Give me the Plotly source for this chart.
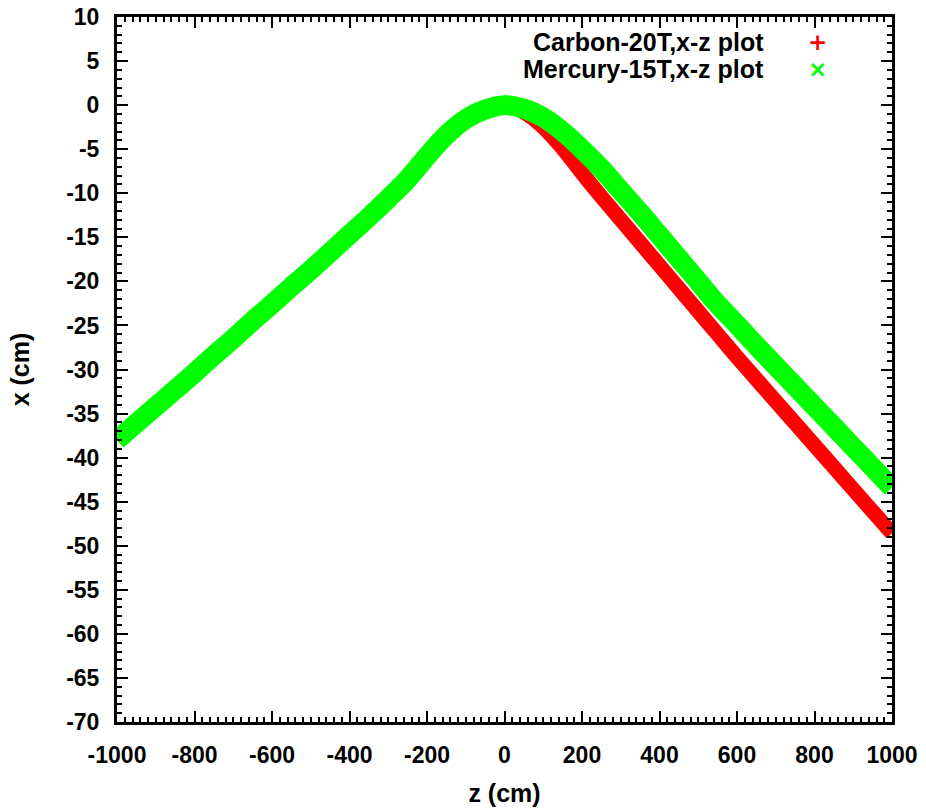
import plotly.graph_objects as go

# z positions (cm)
z_cm = [-1000, -950, -900, -850, -800, -750, -700, -650, -600, -550,
        -500, -450, -400, -350, -300, -250, -200, -150, -100, -50,
        0, 50, 100, 150, 200, 250, 300, 350, 400, 450,
        500, 550, 600, 650, 700, 750, 800, 850, 900, 950, 1000]

# Carbon-20T x (cm)
carbon_x = [-38.0, -36.1, -34.2, -32.3, -30.4, -28.4, -26.5, -24.5, -22.6, -20.6,
            -18.7, -16.7, -14.7, -12.7, -10.6, -8.4, -5.8, -3.4, -1.6, -0.5,
            0.0, -0.8, -2.5, -4.9, -7.7, -10.4, -13.0, -15.6, -18.2, -20.8,
            -23.4, -26.0, -28.6, -31.1, -33.6, -36.1, -38.6, -41.1, -43.6, -46.1, -48.6]

# Mercury-15T x (cm)
mercury_x = [-38.0, -36.1, -34.2, -32.3, -30.4, -28.4, -26.5, -24.5, -22.6, -20.6,
             -18.7, -16.7, -14.7, -12.7, -10.6, -8.4, -5.8, -3.4, -1.6, -0.5,
             0.0, -0.4, -1.4, -3.0, -5.0, -7.2, -9.7, -12.2, -14.8, -17.4,
             -20.0, -22.6, -24.9, -27.3, -29.6, -31.9, -34.2, -36.5, -38.8, -41.1, -43.4]

series_names = ["Carbon-20T,x-z plot", "Mercury-15T,x-z plot"]
x_ticks = [-1000, -800, -600, -400, -200, 0, 200, 400, 600, 800, 1000]
y_ticks = list(range(-70, 11, 5))

FONT = "Liberation Sans"

fig = go.Figure()
fig.add_trace(go.Scatter(x=z_cm, y=carbon_x, mode="lines", name=series_names[0],
                         line=dict(color="#ff0000", width=15, shape="spline"),
                         showlegend=False, hoverinfo="skip"))
fig.add_trace(go.Scatter(x=z_cm, y=mercury_x, mode="lines", name=series_names[1],
                         line=dict(color="#00ff00", width=20, shape="spline"),
                         showlegend=False, hoverinfo="skip"))

# gnuplot-style key: text right-aligned, sample symbol on the right
key_rows = [(series_names[0], "+", "#ff0000", 0.9645, 23),
            (series_names[1], "\u00d7", "#00ff00", 0.926, 23)]
for label, sym, col, yy, sz in key_rows:
    fig.add_annotation(xref="paper", yref="paper", x=0.837, y=yy, text=label,
                       showarrow=False, xanchor="right", yanchor="middle",
                       font=dict(family=FONT, size=25, color="black", weight="bold"))
    fig.add_annotation(xref="paper", yref="paper", x=0.9045, y=yy, text=sym,
                       showarrow=False, xanchor="center", yanchor="middle",
                       font=dict(family="DejaVu Sans", size=sz, color=col, weight="bold"))

axis_common = dict(
    showgrid=False, zeroline=False, showline=True, linecolor="black", linewidth=3,
    mirror="allticks", ticks="inside", ticklen=11, tickwidth=2, tickcolor="black",
    tickfont=dict(family=FONT, size=23, color="black", weight="bold"),
    ticklabelstandoff=10, automargin=False,
)

fig.update_xaxes(range=[-1000, 1000], tickvals=x_ticks, ticktext=[str(v) for v in x_ticks],
                 minor=dict(ticks="inside", ticklen=5, tickwidth=2, dtick=20, tickcolor="black"),
                 title=dict(text="z (cm)", font=dict(family=FONT, size=25, color="black", weight="bold"),
                            standoff=18),
                 **axis_common)
fig.update_yaxes(range=[-70, 10], tickvals=y_ticks, ticktext=[str(v) for v in y_ticks],
                 minor=dict(ticks="inside", ticklen=5, tickwidth=2, dtick=1, tickcolor="black"),
                 title=dict(text="x (cm)", font=dict(family=FONT, size=25, color="black", weight="bold"),
                            standoff=30),
                 **axis_common)

fig.update_layout(width=926, height=809, plot_bgcolor="white", paper_bgcolor="white",
                  margin=dict(l=117, r=34, t=17, b=87), showlegend=False)

fig.write_html("out.html")
